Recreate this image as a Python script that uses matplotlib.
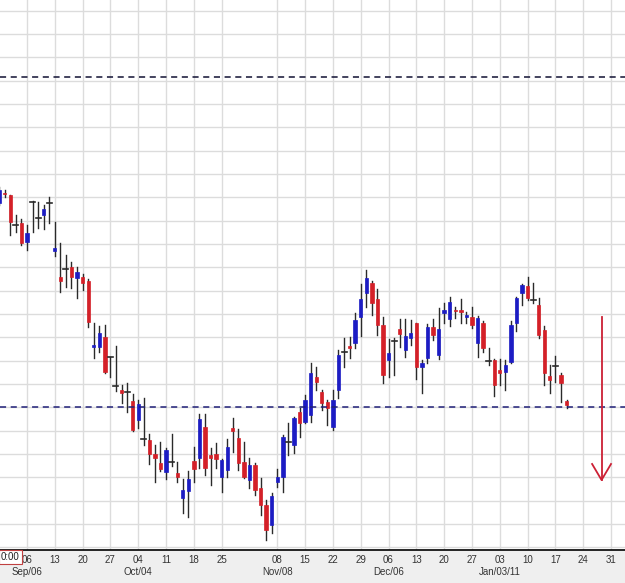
import numpy as np
import matplotlib.pyplot as plt
from matplotlib.patches import Rectangle

# trading-day index (0 = Mon Sep 06) and OHLC values
day = list(range(-5, 98))
opens = [396.7, 407.5, 405, 375, 376.7, 358.3, 398.3, 381.7, 385, 396.7,
         349, 323, 331, 333, 322, 323.3, 319, 253, 253.3, 262.7,
         242.7, 214, 210, 208.3, 199, 180, 160.7, 160, 146, 136.7,
         128.3, 138.3, 126.7, 101.7, 109.3, 139, 141.7, 173.3, 145, 145.7,
         122.7, 130, 172.5, 161.7, 138.3, 120, 135, 111.7, 95, 75,
         118.3, 122.7, 158.3, 155, 187.7, 178.3, 185, 223.3, 208.3, 198.3,
         173.3, 210, 248.3, 254.5, 257.3, 282.7, 306.7, 316.7, 300.7, 275,
         240, 259.3, 270.7, 250, 261.7, 277.3, 232.7, 241.7, 273.3, 245,
         286.7, 280.7, 290, 290.5, 282.7, 282.7, 257.3, 277.3, 239.3, 240,
         230, 228.3, 238.3, 276.7, 306.7, 314, 300, 295, 270, 224,
         234, 225, 199.3]
highs = [413, 410, 405, 385, 381, 375, 399.3, 398.3, 395, 402.7,
         378.3, 357.3, 345, 338.3, 333, 326, 321, 277, 274, 275,
         243.3, 254.3, 215, 216.7, 205.7, 200, 201.7, 166, 155, 158.3,
         151.7, 166, 138.3, 120.7, 129, 153.3, 185.7, 186, 151.7, 157.3,
         141, 161, 181.7, 170.7, 158.3, 142.3, 136.7, 121.7, 100, 106.7,
         130.7, 165, 177.3, 182.7, 191.7, 205, 236.7, 233.3, 210, 200,
         210, 250, 261.7, 263.3, 287.3, 316, 330, 319.3, 310.7, 283.3,
         261, 261.7, 280.7, 280.7, 280, 277.3, 240, 276, 280.7, 291.7,
         296.7, 303.3, 292.7, 300.7, 288.3, 293.3, 284, 279.3, 251.7, 240.7,
         240.7, 240, 279.3, 302.7, 316, 323.3, 316.7, 301.7, 274, 235,
         244, 226.7, 200]
lows = [395, 403, 365, 368.3, 355, 350, 368.3, 371.7, 371, 376.7,
        344, 308.3, 313.3, 312, 302, 310, 273.3, 242, 248.3, 226.7,
        223.3, 209, 197.3, 188.3, 169.3, 172.3, 155, 136, 118.3, 129,
        120.7, 134, 118.3, 87.3, 82.7, 118.3, 131.7, 125, 115, 131.7,
        108.3, 123.3, 148.3, 130, 121.7, 111.7, 105, 85, 60, 66.7,
        112.7, 108.3, 145, 146.7, 163.3, 176.7, 178.3, 210, 190, 175,
        170, 201.7, 233.3, 241.7, 251.7, 264, 293.3, 285, 265, 217.3,
        223.3, 225, 253.3, 243.3, 255, 220.7, 206.7, 236.7, 260, 240.7,
        276.7, 274, 281.7, 277.3, 277.3, 271.7, 243.3, 248.3, 235, 204,
        215, 210, 237.3, 269.3, 295, 300, 296.7, 261.7, 215, 206.7,
        218.3, 198.3, 191.7]
closes = [410, 406, 378.3, 375, 356.7, 367.3, 398.3, 381.7, 390.7, 396.7,
          352.3, 319, 331, 323, 328.3, 317, 278.3, 255, 267.3, 228.3,
          242.7, 214, 206.7, 208.3, 170, 196, 160.7, 146, 142.5, 130.7,
          150, 138.3, 122.7, 110, 121, 130.7, 180.7, 131.7, 142, 140.7,
          140, 153.3, 169.5, 137.3, 123.3, 135, 110, 95, 70, 104,
          123.3, 162.7, 158.3, 181.7, 176.7, 200, 226.7, 218.3, 196.7, 191.7,
          200, 245, 248.3, 252, 280, 300.7, 321.7, 296.7, 275, 225,
          247.3, 259.3, 266, 264, 267.3, 232.7, 236.7, 273.3, 265, 270.7,
          290, 298.3, 289, 288, 285, 275, 281.7, 251.7, 239.3, 215,
          226.7, 235, 275, 301.7, 315, 301.7, 300, 265, 226.7, 220,
          234, 217.3, 195]

# axis labels
week_days = [0, 5, 10, 15, 20, 25, 30, 35, 45, 50, 55, 60, 65, 70, 75, 80,
             85, 90, 95, 100, 105]
week_labels = ["06", "13", "20", "27", "04", "11", "18", "25", "08", "15",
               "22", "29", "06", "13", "20", "27", "03", "10", "17", "24", "31"]
month_days = [0, 20, 45, 65, 85]
month_labels = ["Sep/06", "Oct/04", "Nov/08", "Dec/06", "Jan/03/11"]

# reference levels and projected move
upper_level = 523
lower_level = 193.3
arrow_day = 103.3
arrow_from = 283.3
arrow_to = 120

RED = "#d42028"
BLUE = "#1c1cc4"
WICK = "#2a2a2a"

fig = plt.figure(figsize=(6.25, 5.83), dpi=100, facecolor="#efefef")
ax = fig.add_axes([0, 33 / 583, 1, 550 / 583])
ax.set_facecolor("white")

ax.set_xlim(-27 / 5.562, 598 / 5.562)
ax.set_ylim(50, 600)

# grid
for g in week_days:
    ax.axvline(g, color="#dcdcdc", lw=1, zorder=0)
for k in range(24):
    ax.axhline(589.3 - 23.33 * k, color="#dcdcdc", lw=1, zorder=0)

# candles
w = 0.6
for d, o, h, l, c in zip(day, opens, highs, lows, closes):
    ax.plot([d, d], [l, h], color=WICK, lw=1, zorder=2)
    if abs(c - o) < 1.0:
        col = RED if c < o else WICK
        ax.plot([d - 0.45, d + 0.45], [o, o], color=col, lw=1.2, zorder=3)
    else:
        col = BLUE if c > o else RED
        ax.add_patch(Rectangle((d - w / 2, min(o, c)), w, abs(c - o),
                               facecolor=col, edgecolor=col, lw=0.5, zorder=3))

# dashed levels
ax.axhline(upper_level, color="#111133", lw=1.1, ls=(0, (4, 3)), zorder=4)
ax.axhline(lower_level, color="#202078", lw=1.1, ls=(0, (4, 3)), zorder=4)

# red arrow
ax.plot([arrow_day, arrow_day], [arrow_from, arrow_to], color="#cc2035", lw=1.3, zorder=5)
ax.plot([arrow_day - 1.7, arrow_day, arrow_day + 1.7],
        [arrow_to + 16, arrow_to, arrow_to + 16], color="#cc2035", lw=1.3, zorder=5)

# axes styling
for s in ["top", "left", "right"]:
    ax.spines[s].set_visible(False)
ax.spines["bottom"].set_color("black")
ax.spines["bottom"].set_linewidth(1.2)
ax.set_yticks([])
ax.set_xticks(week_days)
ax.set_xticklabels(week_labels, fontsize=7, color="#333333", family="Liberation Sans")
ax.tick_params(axis="x", length=0, pad=3.5)

trans = ax.get_xaxis_transform()
for d, lab in zip(month_days, month_labels):
    ax.text(d, -0.04, lab, transform=trans, ha="center", va="center",
            fontsize=7, color="#333333", family="Liberation Sans")

fig.text(1 / 625, 1 - 557 / 583, "0:00", ha="left", va="center", fontsize=7,
         color="#222222", family="Liberation Sans", zorder=10,
         bbox=dict(boxstyle="square,pad=0.2", facecolor="white", edgecolor="#c04040", lw=0.8))

fig.savefig("out.png", dpi=100, facecolor=fig.get_facecolor())
